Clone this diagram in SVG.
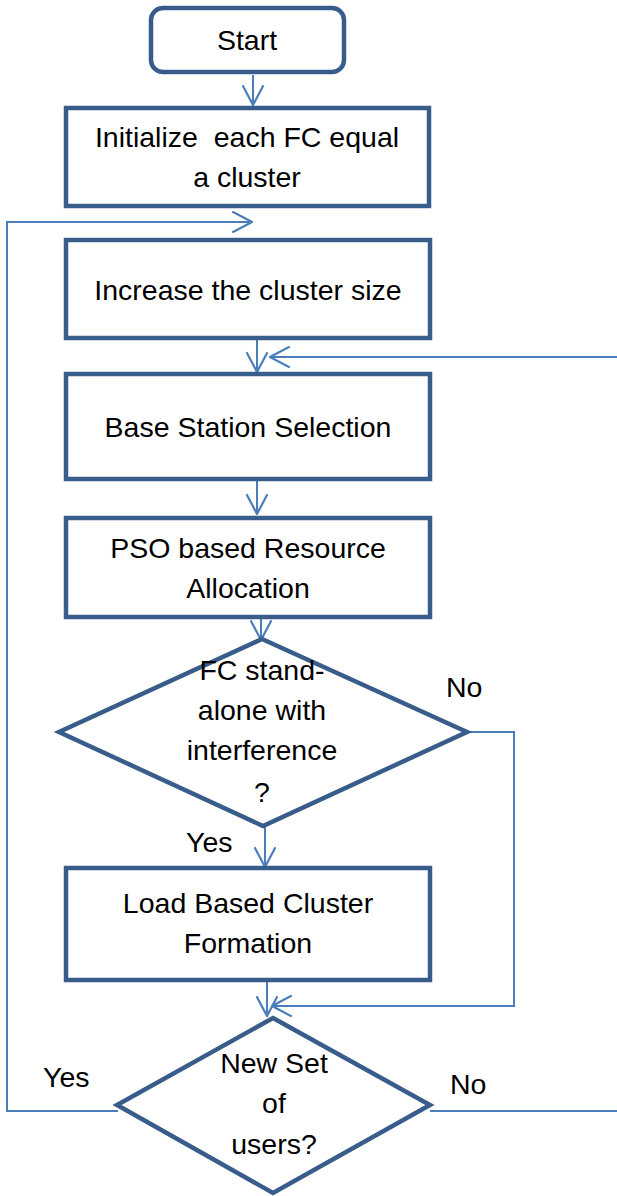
<svg xmlns="http://www.w3.org/2000/svg" width="617" height="1196" viewBox="0 0 617 1196">
<style>
.node{fill:#fff;stroke:#385D8A;stroke-width:4.5}
.t{font-family:"Liberation Sans",Arial,sans-serif;font-size:28.5px;fill:#000;text-anchor:middle;white-space:pre}
.lbl{font-family:"Liberation Sans",Arial,sans-serif;font-size:28.5px;fill:#000}
.c{fill:none;stroke:#4A7EBB;stroke-width:2}
</style>
<defs>
<marker id="ah" markerUnits="userSpaceOnUse" markerWidth="22" markerHeight="22" viewBox="0 0 20 20" refX="19" refY="10" orient="auto">
<path d="M1,0.5 L19,10 L1,19.5" fill="none" stroke="#4A7EBB" stroke-width="2"/>
</marker>
</defs>
<rect width="617" height="1196" fill="#fff"/>
<g id="connectors">
<path class="c" d="M253,75 V105" marker-end="url(#ah)"/>
<path class="c" d="M118,1111 H7 V222 H252" marker-end="url(#ah)"/>
<path class="c" d="M257,340 V372" marker-end="url(#ah)"/>
<path class="c" d="M430,1111 H622 V357 H270" marker-end="url(#ah)"/>
<path class="c" d="M257,476 V514" marker-end="url(#ah)"/>
<path class="c" d="M261,618 V640" marker-end="url(#ah)"/>
<path class="c" d="M467,732 H514 V1006 H272" marker-end="url(#ah)"/>
<path class="c" d="M265,827 V867" marker-end="url(#ah)"/>
<path class="c" d="M267,976 V1016" marker-end="url(#ah)"/>
</g>
<g id="start">
<rect class="node" x="151" y="8" width="193" height="64" rx="12"/>
<text class="t" x="247" y="50">Start</text>
</g>
<g id="init">
<rect class="node" x="66" y="108" width="363" height="98"/>
<text class="t" x="247" y="147" xml:space="preserve">Initialize  each FC equal</text>
<text class="t" x="247" y="187">a cluster</text>
</g>
<g id="increase">
<rect class="node" x="66" y="240" width="364" height="98"/>
<text class="t" x="248" y="300">Increase the cluster size</text>
</g>
<g id="bss">
<rect class="node" x="66" y="374" width="364" height="105"/>
<text class="t" x="248" y="437">Base Station Selection</text>
</g>
<g id="pso">
<rect class="node" x="66" y="518" width="364" height="99"/>
<text class="t" x="248" y="558">PSO based Resource</text>
<text class="t" x="248" y="598">Allocation</text>
</g>
<g id="d1">
<polygon class="node" points="262,639 467,732 263,826 59,732"/>
<text class="t" x="262" y="680">FC stand-</text>
<text class="t" x="262" y="720">alone with</text>
<text class="t" x="262" y="760">interference</text>
<text class="t" x="262" y="802">?</text>
</g>
<g id="load">
<rect class="node" x="66" y="868" width="364" height="112"/>
<text class="t" x="248" y="913">Load Based Cluster</text>
<text class="t" x="248" y="953">Formation</text>
</g>
<g id="d2">
<polygon class="node" points="273,1018 430,1105 273,1193 117,1105"/>
<text class="t" x="274" y="1073">New Set</text>
<text class="t" x="274" y="1113">of</text>
<text class="t" x="274" y="1154">users?</text>
</g>
<g id="labels">
<text class="lbl" x="446" y="697">No</text>
<text class="lbl" x="186" y="852">Yes</text>
<text class="lbl" x="43" y="1087">Yes</text>
<text class="lbl" x="450" y="1094">No</text>
</g>
</svg>
